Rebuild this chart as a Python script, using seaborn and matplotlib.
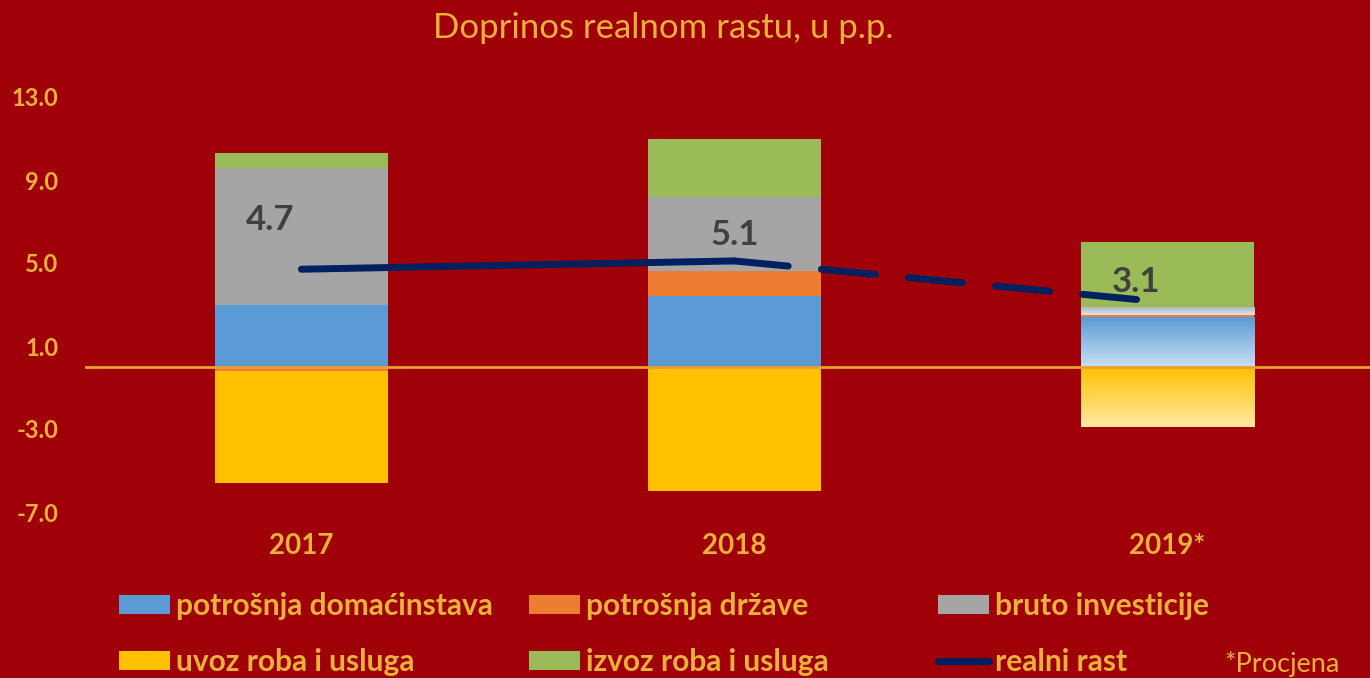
import numpy as np
import pandas as pd
import matplotlib
matplotlib.use("Agg")
import matplotlib.pyplot as plt
import seaborn as sns
from matplotlib.patches import Patch
from matplotlib.lines import Line2D
from matplotlib.colors import LinearSegmentedColormap

# ---------------- data ----------------
years = ["2017", "2018", "2019*"]
households = [3.0, 3.4, 2.4]      # potrošnja domaćinstava
government = [-0.2, 1.2, 0.1]     # potrošnja države
investment = [6.6, 3.6, 0.4]      # bruto investicije
imports = [-5.4, -6.0, -2.9]      # uvoz roba i usluga
exports = [0.7, 2.8, 3.1]         # izvoz roba i usluga
growth = [4.7, 5.1, 3.1]          # realni rast
yticks = [13.0, 9.0, 5.0, 1.0, -3.0, -7.0]

series_names = ["potrošnja domaćinstava", "potrošnja države", "bruto investicije",
                "uvoz roba i usluga", "izvoz roba i usluga"]
series_vals = [households, government, investment, imports, exports]

# ---------------- style ----------------
BG = "#A00008"
GOLD = "#E8B23A"
NAVY = "#002060"
LABEL = "#404040"
colors = {"potrošnja domaćinstava": "#5B9BD5", "potrošnja države": "#ED7D31",
          "bruto investicije": "#A5A5A5", "uvoz roba i usluga": "#FFC000",
          "izvoz roba i usluga": "#9BBB59"}
gradients = {"potrošnja domaćinstava": ("#5B9BD5", "#C9DFF2"),
             "bruto investicije": ("#A9B0BA", "#DDE6F0"),
             "uvoz roba i usluga": ("#FFC000", "#FFE9A3")}

sns.set_style("white", {"axes.facecolor": BG, "figure.facecolor": BG})
plt.rcParams["font.family"] = ["Lato", "DejaVu Sans"]

fig = plt.figure(figsize=(13.7, 6.78), dpi=100)
fig.patch.set_facecolor(BG)
ax = fig.add_axes([85 / 1370, 1 - 512 / 678, (1370 - 85) / 1370, (512 - 97) / 678])
ax.set_facecolor(BG)

df = pd.DataFrame({"year": years})
pos_base = np.zeros(len(years))
neg_base = np.zeros(len(years))
bar_containers = {}
for name, vals in zip(series_names, series_vals):
    v = np.array(vals, dtype=float)
    bottom = np.where(v >= 0, pos_base, neg_base)
    df["v"] = v
    sns.barplot(data=df, x="year", y="v", color=colors[name], width=0.4,
                bottom=bottom, ax=ax, saturation=1, zorder=2, linewidth=0)
    bar_containers[name] = ax.containers[-1]
    pos_base = pos_base + np.where(v >= 0, v, 0)
    neg_base = neg_base + np.where(v < 0, v, 0)

# gradient fill for the estimated year
for name, (c_top, c_bot) in gradients.items():
    patch = bar_containers[name].patches[2]
    bb = patch.get_bbox()
    cmap = LinearSegmentedColormap.from_list("g", [c_bot, c_top])
    grad = np.linspace(0, 1, 256).reshape(-1, 1)
    im = ax.imshow(grad, extent=[bb.x0, bb.x1, min(bb.y0, bb.y1), max(bb.y0, bb.y1)],
                   origin="lower", cmap=cmap, aspect="auto", zorder=2.5,
                   interpolation="bilinear")
    im.set_clip_path(patch)

# zero line
ax.axhline(0, color="#E8A030", lw=2, zorder=3)

# real growth line
xs = np.arange(len(years))
ax.plot(xs[:2], growth[:2], color=NAVY, lw=5, solid_capstyle="round", zorder=4)
ax.plot(xs[1:], growth[1:], color=NAVY, lw=5, dashes=(7.8, 4.8),
        dash_capstyle="round", zorder=4)

offsets = [(-31, 49), (0, 26), (-31, 20)]
for x, g, off in zip(xs, growth, offsets):
    ax.annotate(f"{g:.1f}", (x, g), xytext=off, textcoords="offset pixels",
                ha="center", va="center", fontsize=25, fontweight="bold",
                color=LABEL, zorder=5)

ax.set_xlim(-0.5, (1370 - 301) / 433)
ax.set_ylim(-7, 13)
ax.set_yticks(yticks)
ax.set_yticklabels([f"{t:.1f}" for t in yticks])
ax.set_xlabel("")
ax.set_ylabel("")
ax.tick_params(axis="y", length=0, pad=19, labelsize=17, labelcolor=GOLD)
ax.tick_params(axis="x", length=0, pad=15, labelsize=20, labelcolor=GOLD)
for lab in ax.get_xticklabels() + ax.get_yticklabels():
    lab.set_fontweight("bold")
for s in ax.spines.values():
    s.set_visible(False)
ax.grid(False)

fig.text(663 / 1370, 1 - 28 / 678, "Doprinos realnom rastu, u p.p.", ha="center",
         va="center", fontsize=25, color=GOLD)

# legend: three columns
def patch_handle(name):
    return Patch(facecolor=colors[name], edgecolor="none")

columns = [
    ([patch_handle(series_names[0]), patch_handle(series_names[3])],
     [series_names[0], series_names[3]], 119),
    ([patch_handle(series_names[1]), patch_handle(series_names[4])],
     [series_names[1], series_names[4]], 529),
    ([patch_handle(series_names[2]),
      Line2D([], [], color=NAVY, lw=5, solid_capstyle="round")],
     [series_names[2], "realni rast"], 938),
]
for handles, labels, xpx in columns:
    leg = fig.legend(handles, labels, loc="center left",
                     bbox_to_anchor=(xpx / 1370, 1 - 634 / 678),
                     frameon=False, borderpad=0, borderaxespad=0,
                     handlelength=1.7, handleheight=0.6, handletextpad=0.2,
                     labelspacing=0.94, prop={"family": ["Lato", "DejaVu Sans"],
                                              "weight": "bold", "size": 21.5})
    for t in leg.get_texts():
        t.set_color(GOLD)

fig.text(1224 / 1370, 1 - 664 / 678, "*Procjena", ha="left", va="center",
         fontsize=19.5, color=GOLD)

fig.savefig("out.png", dpi=100, facecolor=BG)
